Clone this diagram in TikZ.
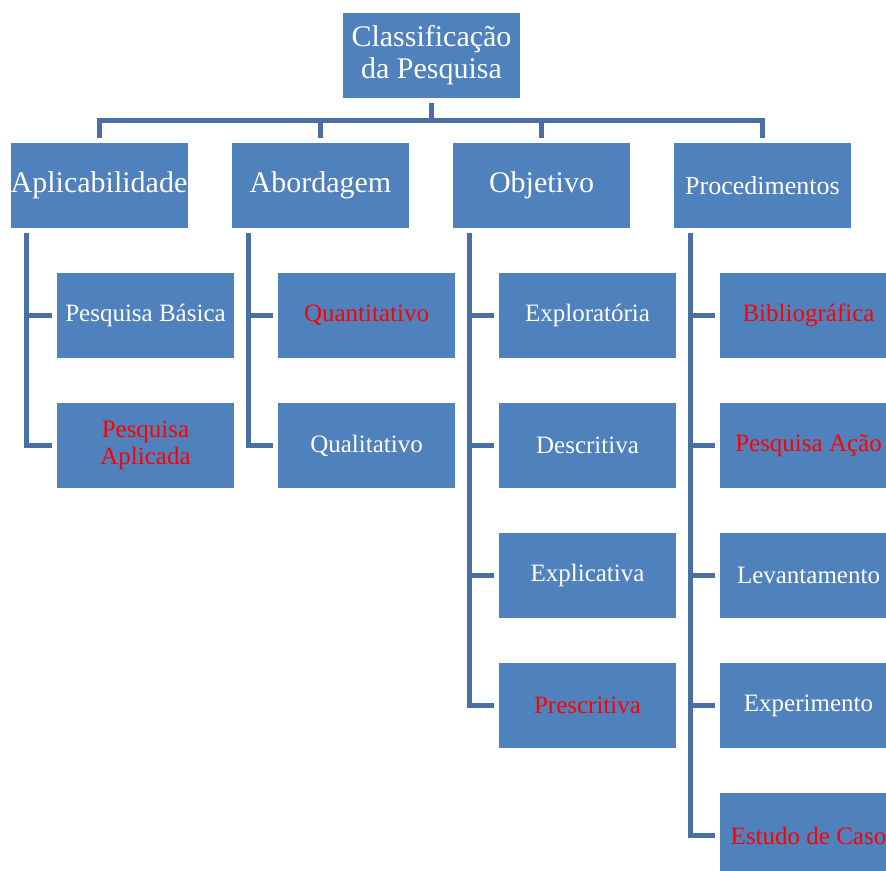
\documentclass[tikz,border=0pt]{standalone}
\usepackage{fontspec}
\setmainfont{Liberation Serif}
\usetikzlibrary{positioning,calc}
\definecolor{boxblue}{HTML}{4F81BD}
\definecolor{linkblue}{HTML}{4A6FA5}
\tikzset{
  caixa/.style={fill=boxblue, minimum width=177pt, minimum height=85pt, inner sep=0pt,
    outer sep=5pt, text=white, align=center, font=\fontsize{25}{27}\selectfont},
  grande/.style={font=\fontsize{30}{32}\selectfont},
  ramo/.style={draw=linkblue, line width=5pt}
}
\begin{document}
\begin{tikzpicture}[x=1pt,y=-1pt]
\clip (0,0) rectangle (886,870);

%top
\node[caixa, grande] (topo) at (431.5,55.5) {Classificação\\da Pesquisa};
\coordinate (barra) at (431.5,120);

%level 1
\node[caixa, grande] (apl) at (99,185.5) {Aplicabilidade};
\node[caixa, grande] (abo) at (320.5,185.5) {Abordagem};
\node[caixa, grande] (obj) at (541.5,185.5) {Objetivo};
\node[caixa, font=\fontsize{26}{28}\selectfont] (pro) at (762.5,185.5) {Procedimentos};

%bus
\draw[ramo] (topo.south) -- (barra);
\foreach \n in {apl,abo,obj,pro}
  \draw[ramo] (\n.north) |- (barra);

%children
\foreach \txt/\cor [count=\i] in {Pesquisa Básica/white, {Pesquisa\\Aplicada}/red}{
  \node[caixa, text=\cor] (apl\i) at (145.5,{315.5+130*(\i-1)}) {\txt};
  \draw[ramo] ([xshift=21pt]apl.south west) |- (apl\i.west);
}
\foreach \txt/\cor [count=\i] in {Quantitativo/red, Qualitativo/white}{
  \node[caixa, text=\cor] (abo\i) at (366.5,{315.5+130*(\i-1)}) {\txt};
  \draw[ramo] ([xshift=21pt]abo.south west) |- (abo\i.west);
}
\foreach \txt/\cor [count=\i] in {Exploratória/white, Descritiva/white, Explicativa/white, Prescritiva/red}{
  \node[caixa, text=\cor] (obj\i) at (587.5,{315.5+130*(\i-1)}) {\txt};
  \draw[ramo] ([xshift=21pt]obj.south west) |- (obj\i.west);
}
\foreach \txt/\cor [count=\i] in {Bibliográfica/red, Pesquisa Ação/red, Levantamento/white, Experimento/white, Estudo de Caso/red}{
  \node[caixa, text=\cor] (pro\i) at (808.5,{315.5+130*(\i-1)}) {\txt};
  \draw[ramo] ([xshift=21pt]pro.south west) |- (pro\i.west);
}
\end{tikzpicture}
\end{document}
